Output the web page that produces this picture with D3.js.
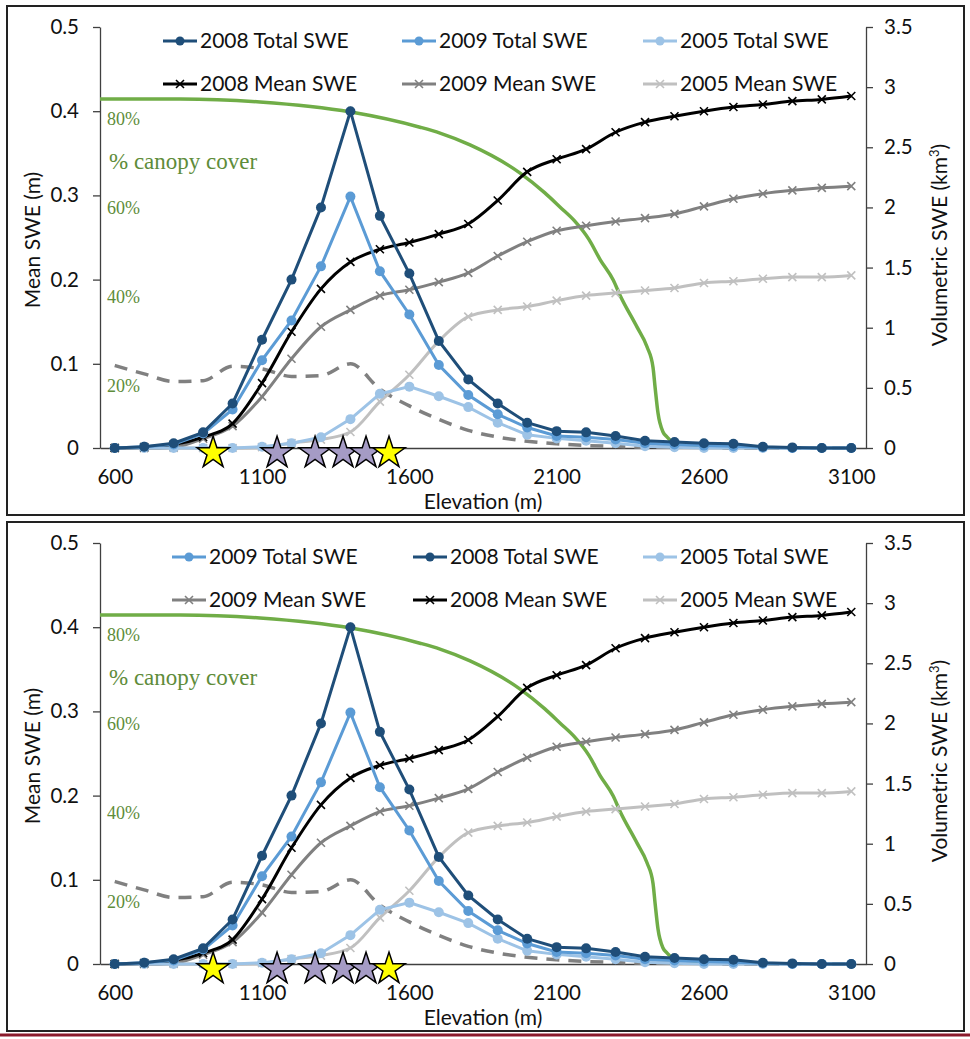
<!DOCTYPE html>
<html>
<head>
<meta charset="utf-8">
<title>SWE by elevation</title>
<script src="https://cdn.jsdelivr.net/npm/d3@7"></script>
<style>
body { margin: 0; background: #fff; }
svg text { font-family: Lato, "Open Sans", sans-serif; fill: #111; }
.tick text { font-size: 20.5px; }
.axis-title { font-size: 21px; }
.legend-text { font-size: 21px; }
.canopy-label { font-family: "Liberation Serif", serif; fill: #5e8c3a !important; }
</style>
</head>
<body>
<div id="chart"></div>
<script>

// elevation bands (m)
var elevations = [600, 700, 800, 900, 1000, 1100, 1200, 1300, 1400, 1500, 1600, 1700, 1800,
                  1900, 2000, 2100, 2200, 2300, 2400, 2500, 2600, 2700, 2800, 2900, 3000, 3100];

// volumetric (total) SWE, km3 - right axis
var total2008 = [0, 0.01, 0.04, 0.13, 0.37, 0.90, 1.40, 2.00, 2.80, 1.93, 1.45, 0.89, 0.57,
                 0.37, 0.21, 0.14, 0.13, 0.10, 0.06, 0.05, 0.04, 0.035, 0.01, 0.005, 0, 0];
var total2009 = [0, 0.01, 0.03, 0.12, 0.32, 0.73, 1.06, 1.51, 2.09, 1.47, 1.11, 0.69, 0.44,
                 0.28, 0.17, 0.10, 0.09, 0.07, 0.04, 0.03, 0.02, 0.014, 0.007, 0, 0, 0];
var total2005 = [0, 0, 0, 0, 0, 0.01, 0.04, 0.09, 0.24, 0.45, 0.51, 0.43, 0.34,
                 0.21, 0.11, 0.08, 0.06, 0.04, 0.015, 0.007, 0, 0, 0, 0, 0, 0];

// mean SWE, m - left axis
var mean2008 = [0, 0.001, 0.004, 0.013, 0.029, 0.077, 0.138, 0.189, 0.221, 0.236, 0.244, 0.254, 0.266,
                0.294, 0.328, 0.343, 0.355, 0.375, 0.387, 0.394, 0.400, 0.405, 0.408, 0.412, 0.414, 0.418];
var mean2009 = [0, 0, 0.001, 0.011, 0.026, 0.061, 0.106, 0.144, 0.164, 0.181, 0.188, 0.197, 0.208,
                0.228, 0.245, 0.258, 0.264, 0.269, 0.273, 0.278, 0.287, 0.296, 0.302, 0.306, 0.309, 0.311];
var mean2005 = [0, 0, 0, 0, 0, 0.001, 0.006, 0.010, 0.019, 0.055, 0.087, 0.127, 0.156,
                0.164, 0.168, 0.175, 0.181, 0.184, 0.187, 0.190, 0.196, 0.198, 0.201, 0.203, 0.203, 0.205];

// dashed grey curve (left axis units)
var areaCurve = [0.098, 0.088, 0.079, 0.080, 0.097, 0.094, 0.085, 0.086, 0.100, 0.070, 0.050, 0.034, 0.021,
                 0.013, 0.008, 0.005, 0.003, 0.002, 0.001, 0.001, 0.001, 0, 0, 0, 0, 0];

// % canopy cover curve
var canopyElev = [550, 822, 1093, 1402, 1636, 1704, 1806, 1976, 2060, 2112, 2160, 2210, 2248, 2292, 2315,
                  2373, 2407, 2427, 2434, 2444, 2461, 2475, 2509, 2553, 2597];
var canopyPct  = [82.9, 82.9, 82.2, 79.8, 76.2, 74.8, 72.0, 65.3, 60.6, 57.2, 54.0, 49.5, 44.7, 39.9, 36.3,
                  28.7, 24.0, 19.2, 14.5, 8.3, 3.8, 2.6, 0.7, 0.2, 1.4];
var canopyLabels = [80, 60, 40, 20];

// site stars along the axis
var starElev = [934, 1151, 1280, 1375, 1453, 1531];
var starKind = ["yellow", "purple", "purple", "purple", "purple", "yellow"];

// tick labels
var xTicks = [600, 1100, 1600, 2100, 2600, 3100];
var leftTicks = [0, 0.1, 0.2, 0.3, 0.4, 0.5];
var rightTicks = [0, 0.5, 1, 1.5, 2, 2.5, 3, 3.5];

var width = 970, height = 1039;

var svg = d3.select("#chart").append("svg")
  .attr("width", width)
  .attr("height", height);

// scales (panel-local coordinates)
var x = d3.scaleLinear().domain([550, 3150]).range([100, 866]);
var yL = d3.scaleLinear().domain([0, 0.5]).range([448, 27]);
var yR = d3.scaleLinear().domain([0, 3.5]).range([448, 27]);
var yC = d3.scaleLinear().domain([0, 100]).range([448, 27]);
var yCLab = d3.scaleLinear().domain([20, 80]).range([yL(0.1) + 22, yL(0.4) + 7]);

var series = {
  "2008 Total SWE": { values: total2008, y: yR, color: "#1f4e79", marker: "dot", w: 3 },
  "2009 Total SWE": { values: total2009, y: yR, color: "#5b9bd5", marker: "dot", w: 3 },
  "2005 Total SWE": { values: total2005, y: yR, color: "#9dc3e6", marker: "dot", w: 3 },
  "2008 Mean SWE":  { values: mean2008, y: yL, color: "#000000", marker: "x", w: 3 },
  "2009 Mean SWE":  { values: mean2009, y: yL, color: "#808080", marker: "x", w: 3 },
  "2005 Mean SWE":  { values: mean2005, y: yL, color: "#c0c0c0", marker: "x", w: 3 }
};
var drawOrder = ["2005 Mean SWE", "2009 Mean SWE", "2008 Mean SWE",
                 "2005 Total SWE", "2009 Total SWE", "2008 Total SWE"];

var xPath = "M-4,-4L4,4M-4,4L4,-4";

function drawPanel(dy, legendOrder, legendX) {
  var g = svg.append("g").attr("transform", "translate(0," + dy + ")");

  // panel frame
  g.append("rect")
    .attr("x", 7).attr("y", 6)
    .attr("width", 957).attr("height", 509)
    .style("fill", "none")
    .style("stroke", "#222")
    .style("stroke-width", 2);

  // axes
  var axL = g.append("g").attr("transform", "translate(100,0)")
    .call(d3.axisLeft(yL).tickValues(leftTicks).tickSize(7).tickSizeOuter(0).tickPadding(14).tickFormat(d3.format("")));
  var axR = g.append("g").attr("transform", "translate(866,0)")
    .call(d3.axisRight(yR).tickValues(rightTicks).tickSize(7).tickSizeOuter(0).tickPadding(11).tickFormat(d3.format("")));
  var axX = g.append("g").attr("transform", "translate(0," + yL(0) + ")")
    .call(d3.axisBottom(x).tickValues(xTicks).tickSize(0).tickSizeOuter(0).tickPadding(21).tickFormat(d3.format("d")));
  [axL, axR, axX].forEach(function(a) {
    a.selectAll("path, line").style("stroke", "#404040").style("stroke-width", 1.3);
    a.selectAll("text").style("fill", "#111");
  });

  g.append("text").attr("class", "axis-title")
    .attr("x", 483).attr("y", 509)
    .attr("text-anchor", "middle")
    .text("Elevation (m)");
  g.append("text").attr("class", "axis-title")
    .attr("transform", "translate(40,240) rotate(-90)")
    .attr("text-anchor", "middle")
    .text("Mean SWE (m)");
  g.append("text").attr("class", "axis-title")
    .attr("transform", "translate(947,245) rotate(-90)")
    .attr("text-anchor", "middle")
    .html("Volumetric SWE (km<tspan dy='-8' font-size='13'>3</tspan><tspan dy='8'>)</tspan>");

  // canopy cover curve
  var canopy = canopyElev.map(function(e, i) { return [e, canopyPct[i]]; });
  g.append("path")
    .datum(canopy)
    .attr("d", d3.line().x(function(d) { return x(d[0]); }).y(function(d) { return yC(d[1]); }).curve(d3.curveMonotoneX))
    .style("fill", "none")
    .style("stroke", "#70ad47")
    .style("stroke-width", 3.5);

  g.selectAll(".canopy-pct")
    .data(canopyLabels)
    .enter().append("text")
      .attr("class", "canopy-label")
      .attr("x", 107)
      .attr("y", function(d) { return yCLab(d); })
      .attr("dy", "0.35em")
      .style("font-size", "18px")
      .text(function(d) { return d + "%"; });
  g.append("text")
    .attr("class", "canopy-label")
    .attr("x", 109).attr("y", 161)
    .attr("dy", "0.35em")
    .style("font-size", "23px")
    .text("% canopy cover");

  // dashed grey curve
  g.append("path")
    .datum(areaCurve)
    .attr("d", d3.line().x(function(d, i) { return x(elevations[i]); }).y(function(d) { return yL(d); }).curve(d3.curveMonotoneX))
    .style("fill", "none")
    .style("stroke", "#808080")
    .style("stroke-width", 3.5)
    .style("stroke-dasharray", "13,9");

  // SWE series
  drawOrder.forEach(function(name) {
    var s = series[name];
    var line = d3.line()
      .x(function(d, i) { return x(elevations[i]); })
      .y(function(d) { return s.y(d); });
    if (s.marker === "x") line.curve(d3.curveMonotoneX);
    g.append("path")
      .datum(s.values)
      .attr("d", line)
      .style("fill", "none")
      .style("stroke", s.color)
      .style("stroke-width", s.w);
    if (s.marker === "dot") {
      g.append("g").selectAll("circle")
        .data(s.values).enter().append("circle")
          .attr("cx", function(d, i) { return x(elevations[i]); })
          .attr("cy", function(d) { return s.y(d); })
          .attr("r", 5)
          .style("fill", s.color);
    } else {
      g.append("g").selectAll("path")
        .data(s.values).enter().append("path")
          .attr("transform", function(d, i) { return "translate(" + x(elevations[i]) + "," + s.y(d) + ")"; })
          .attr("d", xPath)
          .style("stroke", s.color)
          .style("stroke-width", 1.6);
    }
  });

  // stars
  var star = d3.symbol().type(d3.symbolStar).size(320);
  g.append("g").selectAll("path")
    .data(starElev).enter().append("path")
      .attr("transform", function(d) { return "translate(" + x(d) + "," + (yL(0) + 5) + ")"; })
      .attr("d", star)
      .style("fill", function(d, i) { return starKind[i] === "yellow" ? "#ffff00" : "#a59bc5"; })
      .style("stroke", "#000")
      .style("stroke-width", 1.5);

  // legend, 3 columns x 2 rows
  var leg = g.append("g").selectAll("g")
    .data(legendOrder).enter().append("g")
      .attr("transform", function(d, i) {
        return "translate(" + legendX[i % 3] + "," + (i < 3 ? 41 : 84) + ")";
      });
  leg.append("line")
    .attr("x1", 0).attr("x2", 34)
    .style("stroke", function(d) { return series[d].color; })
    .style("stroke-width", 3);
  leg.filter(function(d) { return series[d].marker === "dot"; })
    .append("circle").attr("cx", 17).attr("r", 4.5)
    .style("fill", function(d) { return series[d].color; });
  leg.filter(function(d) { return series[d].marker === "x"; })
    .append("path").attr("transform", "translate(17,0)").attr("d", xPath)
    .style("stroke", function(d) { return series[d].color; })
    .style("stroke-width", 1.6);
  leg.append("text")
    .attr("class", "legend-text")
    .attr("x", 37).attr("dy", "0.35em")
    .text(function(d) { return d; });
}

drawPanel(0, ["2008 Total SWE", "2009 Total SWE", "2005 Total SWE",
              "2008 Mean SWE", "2009 Mean SWE", "2005 Mean SWE"], [163, 402, 643]);
drawPanel(516, ["2009 Total SWE", "2008 Total SWE", "2005 Total SWE",
                "2009 Mean SWE", "2008 Mean SWE", "2005 Mean SWE"], [172, 413, 643]);

// bottom rule
svg.append("line")
  .attr("x1", 0).attr("x2", width)
  .attr("y1", 1035).attr("y2", 1035)
  .style("stroke", "#8b1a2c")
  .style("stroke-width", 3);

</script>
</body>
</html>
